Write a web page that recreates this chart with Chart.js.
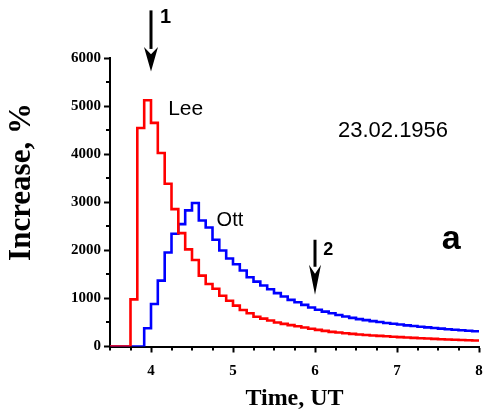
<!DOCTYPE html>
<html>
<head>
<meta charset="utf-8">
<script src="https://cdn.jsdelivr.net/npm/chart.js@4"></script>
<style>
  html, body { margin: 0; padding: 0; background: #fff; }
  #wrap { width: 484px; height: 413px; }
</style>
</head>
<body>
<div id="wrap"><canvas id="c" width="484" height="413"></canvas></div>
<script>
// 5-minute bin start times (UT, decimal hours); the last entry closes the final bin
const hours = [3.5,
  3.75, 3.833, 3.917, 4.0, 4.083, 4.167, 4.25, 4.333, 4.417, 4.5, 4.583, 4.667,
  4.75, 4.833, 4.917, 5.0, 5.083, 5.167, 5.25, 5.333, 5.417, 5.5, 5.583, 5.667,
  5.75, 5.833, 5.917, 6.0, 6.083, 6.167, 6.25, 6.333, 6.417, 6.5, 6.583, 6.667,
  6.75, 6.833, 6.917, 7.0, 7.083, 7.167, 7.25, 7.333, 7.417, 7.5, 7.583, 7.667,
  7.75, 7.833, 7.917, 8.0];

// Count rate increase, % (Leeds)
const lee = [0,
  980, 4545, 5120, 4650, 4025, 3385, 2858, 2358, 2020, 1800, 1475, 1300,
  1200, 1055, 950, 850, 760, 690, 620, 580, 540, 500, 470, 445,
  420, 395, 370, 345, 325, 305, 290, 275, 262, 250, 240, 230,
  220, 212, 204, 196, 188, 180, 172, 165, 158, 152, 146, 140,
  135, 130, 125, 125];

// Count rate increase, % (Ottawa)
const ott = [0,
  0, 0, 380, 885, 1370, 1955, 2345, 2545, 2830, 2985, 2620, 2475,
  2220, 1996, 1830, 1710, 1580, 1440, 1350, 1270, 1190, 1110, 1040, 970,
  920, 865, 810, 765, 725, 690, 655, 625, 595, 570, 548, 528,
  508, 490, 472, 456, 440, 425, 410, 397, 384, 372, 360, 349,
  338, 328, 318, 318];

const xTickValues = [4, 5, 6, 7, 8];
const yTickValues = [0, 1000, 2000, 3000, 4000, 5000, 6000];
const xMinorTicks = [3.5, 3.75, 4.25, 4.5, 4.75, 5.25, 5.5, 5.75, 6.25, 6.5, 6.75, 7.25, 7.5, 7.75];
const yMinorTicks = [500, 1500, 2500, 3500, 4500, 5500];

const eventTimes = [4, 6];          // marked moments, arrows 1 and 2
const eventLabels = ['1', '2'];

const SANS = '"Liberation Sans", Arial, sans-serif';
const SERIF = '"Liberation Serif", "Times New Roman", serif';

function series(values) {
  return hours.map((h, i) => ({ x: h, y: values[i] }));
}

function arrow(ctx, x, yTop, yHeadStart, yTip, halfW) {
  ctx.beginPath();
  ctx.moveTo(x, yTop);
  ctx.lineTo(x, yHeadStart + 2);
  ctx.lineWidth = 3;
  ctx.strokeStyle = '#000';
  ctx.stroke();
  ctx.beginPath();
  ctx.moveTo(x - halfW, yHeadStart);
  ctx.lineTo(x, yHeadStart + (yTip - yHeadStart) * 0.3);
  ctx.lineTo(x + halfW, yHeadStart);
  ctx.lineTo(x, yTip);
  ctx.closePath();
  ctx.fillStyle = '#000';
  ctx.fill();
}

const decorations = {
  id: 'decorations',
  afterDraw(chart) {
    const { ctx, scales: { x, y } } = chart;
    ctx.save();

    // minor ticks
    ctx.strokeStyle = '#000';
    ctx.lineWidth = 2;
    xMinorTicks.forEach(v => {
      const px = Math.round(x.getPixelForValue(v));
      ctx.beginPath();
      ctx.moveTo(px, y.bottom);
      ctx.lineTo(px, y.bottom + 4);
      ctx.stroke();
    });
    yMinorTicks.forEach(v => {
      const py = Math.round(y.getPixelForValue(v));
      ctx.beginPath();
      ctx.moveTo(x.left, py);
      ctx.lineTo(x.left - 4, py);
      ctx.stroke();
    });

    // event arrows
    const a1 = x.getPixelForValue(eventTimes[0]);
    arrow(ctx, a1, y.getPixelForValue(6990), y.getPixelForValue(6230), y.getPixelForValue(5720), 7);
    const a2 = x.getPixelForValue(eventTimes[1]);
    arrow(ctx, a2, y.getPixelForValue(2220), y.getPixelForValue(1700), y.getPixelForValue(1075), 6);

    ctx.fillStyle = '#000';
    ctx.textAlign = 'left';
    ctx.textBaseline = 'middle';
    ctx.font = 'bold 20px ' + SANS;
    ctx.fillText(eventLabels[0], x.getPixelForValue(4.11), y.getPixelForValue(6840));
    ctx.font = 'bold 18px ' + SANS;
    ctx.fillText(eventLabels[1], x.getPixelForValue(6.1), y.getPixelForValue(2000));

    // curve names, date and panel letter
    ctx.font = '21px ' + SANS;
    ctx.fillText('Lee', x.getPixelForValue(4.209), y.getPixelForValue(4935));
    ctx.font = '20px ' + SANS;
    ctx.fillText('Ott', x.getPixelForValue(4.8), y.getPixelForValue(2620));
    ctx.font = '22px ' + SANS;
    ctx.fillText('23.02.1956', x.getPixelForValue(6.28), y.getPixelForValue(4480));
    ctx.font = 'bold 34px ' + SANS;
    ctx.textAlign = 'center';
    ctx.fillText('a', x.getPixelForValue(7.66), y.getPixelForValue(2230));

    // y axis title
    ctx.translate(22, 182);
    ctx.rotate(-Math.PI / 2);
    ctx.font = 'bold 31px ' + SERIF;
    ctx.textAlign = 'center';
    ctx.fillText('Increase, %', 0, 0);
    ctx.restore();
  }
};

new Chart(document.getElementById('c'), {
  type: 'line',
  data: {
    datasets: [
      {
        label: 'Lee',
        data: series(lee),
        stepped: 'before',
        borderColor: '#ff0000',
        borderWidth: 2.6,
        borderJoinStyle: 'miter',
        pointRadius: 0,
        fill: false
      },
      {
        label: 'Ott',
        data: series(ott),
        stepped: 'before',
        borderColor: '#0000ff',
        borderWidth: 2.6,
        borderJoinStyle: 'miter',
        pointRadius: 0,
        fill: false
      }
    ]
  },
  options: {
    responsive: false,
    animation: false,
    layout: { padding: { left: 0, right: 5, top: 58, bottom: 0 } },
    plugins: { legend: { display: false }, tooltip: { enabled: false } },
    scales: {
      x: {
        type: 'linear',
        min: 3.5,
        max: 8,
        afterBuildTicks: s => { s.ticks = xTickValues.map(v => ({ value: v })); },
        afterFit: s => { s.height = 66.5; s.paddingLeft = 0; s.paddingRight = 0; },
        grid: { drawOnChartArea: false, drawTicks: true, tickLength: 6, tickWidth: 2, tickColor: '#000' },
        border: { display: true, color: '#000', width: 2 },
        ticks: {
          color: '#000',
          padding: 10,
          maxRotation: 0,
          callback: v => String(v),
          font: { family: SERIF, weight: 'bold', size: 15 }
        },
        title: {
          display: true,
          text: 'Time, UT',
          color: '#000',
          padding: { top: 0, bottom: 0 },
          font: { family: SERIF, weight: 'bold', size: 24 }
        }
      },
      y: {
        type: 'linear',
        min: 0,
        max: 6000,
        afterBuildTicks: s => { s.ticks = yTickValues.map(v => ({ value: v })); },
        afterFit: s => { s.width = 110; s.paddingTop = 0; s.paddingBottom = 0; },
        grid: { drawOnChartArea: false, drawTicks: true, tickLength: 6, tickWidth: 2, tickColor: '#000' },
        border: { display: true, color: '#000', width: 2 },
        ticks: {
          color: '#000',
          padding: 3,
          callback: v => String(v),
          font: { family: SERIF, weight: 'bold', size: 15 }
        }
      }
    }
  },
  plugins: [decorations]
});
</script>
</body>
</html>
